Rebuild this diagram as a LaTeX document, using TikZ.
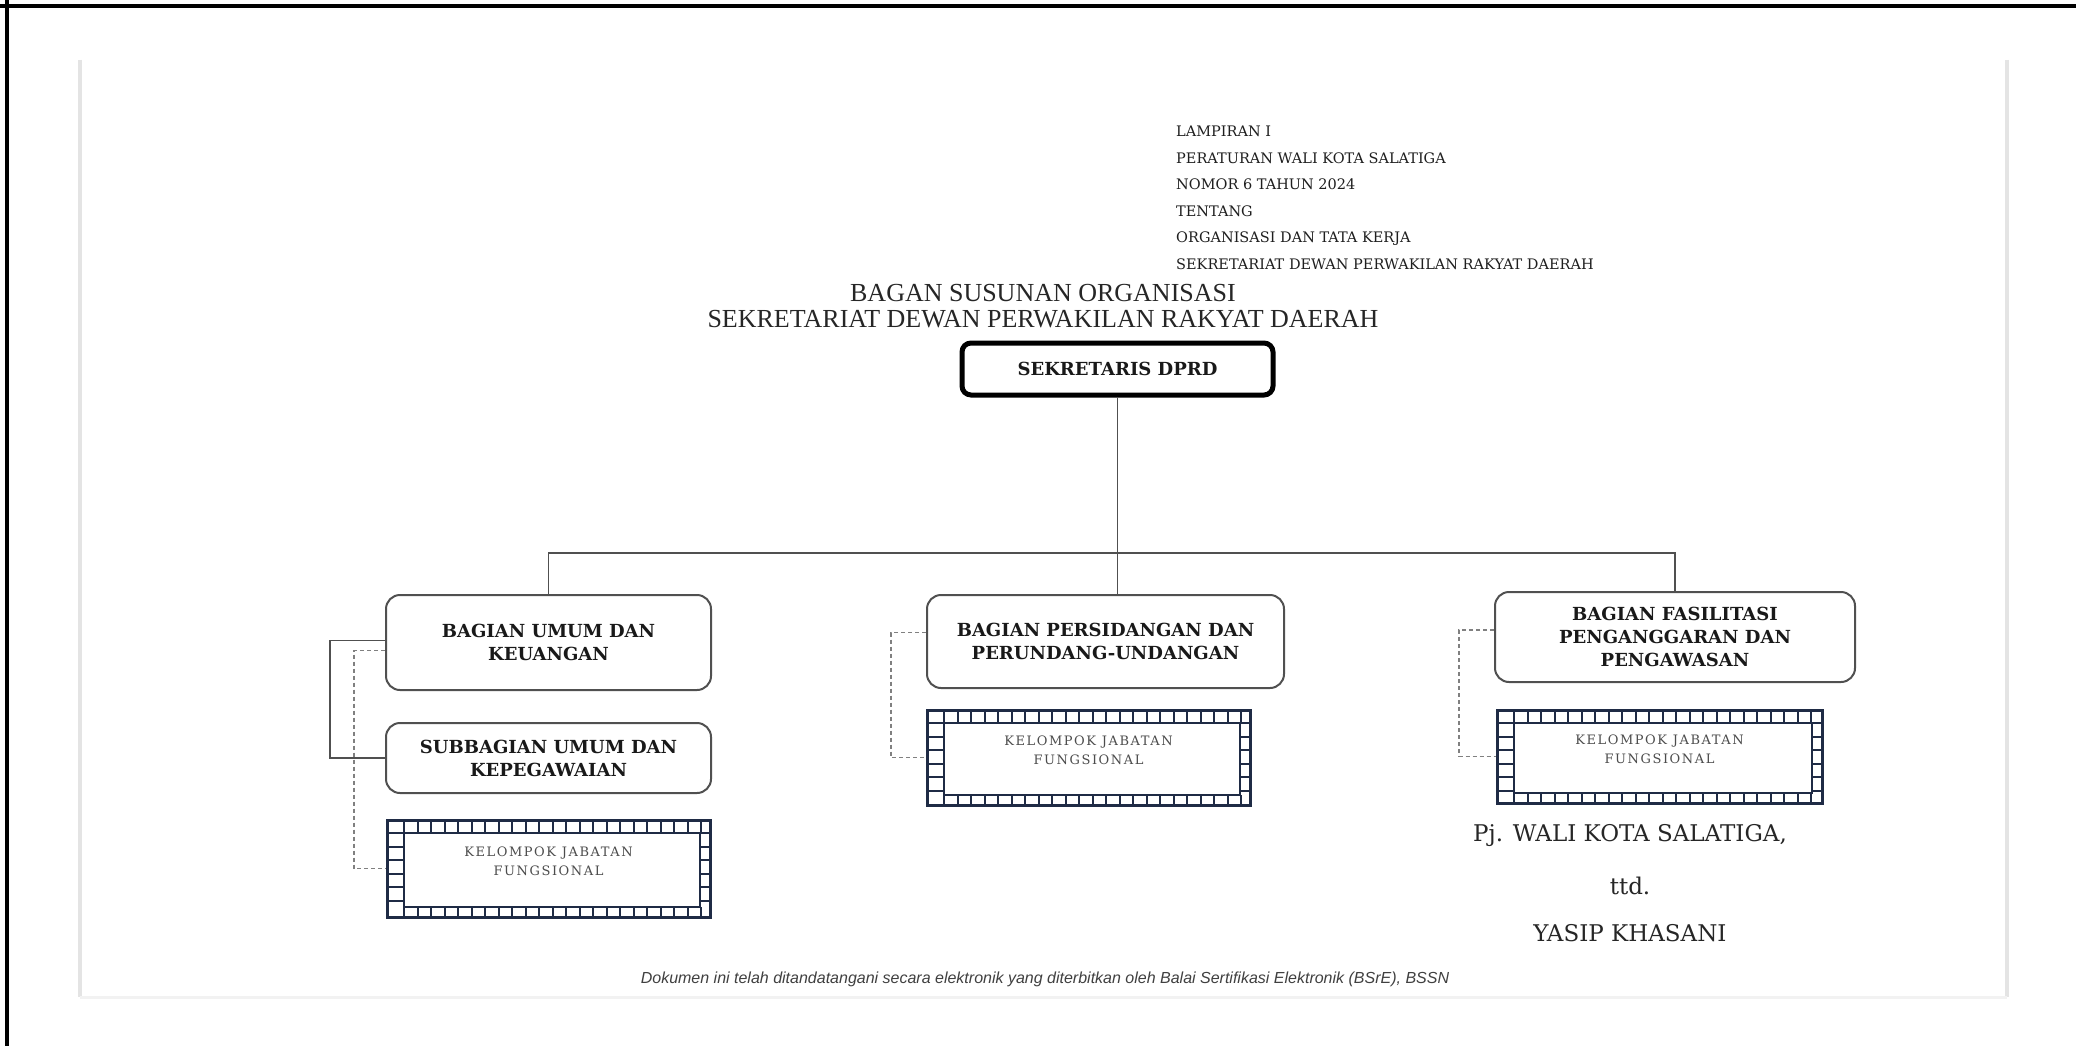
\documentclass[tikz,border=0pt]{standalone}
\usepackage{fontspec}
\setmainfont{DejaVu Serif}
\newfontfamily\titlefont{Liberation Serif}
\newfontfamily\footfont{Liberation Sans}
\newfontfamily\kjffont[LetterSpace=12]{DejaVu Serif}
\usetikzlibrary{positioning,calc}
\definecolor{navy}{HTML}{1F2B45}
\definecolor{linegray}{HTML}{505050}
\definecolor{pagegray}{HTML}{E4E4E4}

\begin{document}
\begin{tikzpicture}[x=1pt,y=-1pt,
  unit/.style={rectangle, draw=linegray, line width=2pt, rounded corners=14pt, fill=white, align=center, font=\fontsize{18}{23}\selectfont\bfseries, text=black!90},
  head/.style={unit, draw=black, line width=5pt, rounded corners=9pt},
  kjf/.style={rectangle, draw=navy, line width=3pt, align=center, text depth=14pt, font=\kjffont\fontsize{13}{19}\selectfont, text=black!70,
    path picture={
      \draw[navy, line width=2.5pt] ($(path picture bounding box.north west)+(17,13)$) rectangle ($(path picture bounding box.south east)+(-10,-10)$);
      \foreach \t in {0,...,22} {\draw[navy, line width=2pt] ($(path picture bounding box.north west)+(17+\t*13.5,0)$) -- ++(0,13);
        \draw[navy, line width=2pt] ($(path picture bounding box.south west)+(17+\t*13.5,0)$) -- ++(0,-10);}
      \foreach \t in {0,...,5} {\draw[navy, line width=2pt] ($(path picture bounding box.north west)+(0,13+\t*13.5)$) -- ++(17,0);
        \draw[navy, line width=2pt] ($(path picture bounding box.north east)+(0,13+\t*13.5)$) -- ++(-10,0);}
    }},
  conn/.style={draw=linegray, line width=1.6pt},
  dashline/.style={draw=gray, line width=1.6pt, dash pattern=on 4pt off 3pt},
  header/.style={align=left, inner sep=0pt, font=\fontsize{14.5}{26.5}\selectfont, text=black!88},
  title/.style={align=center, inner sep=0pt, font=\titlefont\fontsize{26}{26.5}\selectfont, text=black!85},
  sign/.style={inner sep=0pt, font=\fontsize{23}{26}\selectfont, text=black!85},
  foot/.style={inner sep=0pt, font=\footfont\itshape\fontsize{16}{18}\selectfont, text=black!75}
]
\useasboundingbox (0,0) rectangle (2076,1046);
\fill[white] (0,0) rectangle (2076,1046);

% frame and page
\draw[black, line width=4pt] (0,6) -- (2076,6);
\draw[black, line width=4pt] (7,0) -- (7,1046);
\draw[pagegray, line width=4pt] (80,60) -- (80,997);
\draw[pagegray, line width=4pt] (2007,60) -- (2007,997);
\draw[black!5, line width=3pt] (80,997) -- (2007,997);

% texts
\node[header, anchor=north west] (lamp) at (1176,126) {LAMPIRAN I\\PERATURAN WALI KOTA SALATIGA\\NOMOR 6 TAHUN 2024\\TENTANG\\ORGANISASI DAN TATA KERJA\\SEKRETARIAT DEWAN PERWAKILAN RAKYAT DAERAH};
\node[title] (bagan) at (1043,306) {BAGAN SUSUNAN ORGANISASI\\SEKRETARIAT DEWAN PERWAKILAN RAKYAT DAERAH};

% units
\node[head, minimum width=311pt, minimum height=52pt] (sek) at (1117.5,369) {SEKRETARIS DPRD};
\node[unit, minimum width=325pt, minimum height=95pt] (bu) at (548.5,642.5) {BAGIAN UMUM DAN\\KEUANGAN};
\node[unit, minimum width=325pt, minimum height=70pt] (sub) at (548.5,758) {SUBBAGIAN UMUM DAN\\KEPEGAWAIAN};
\node[kjf, minimum width=323pt, minimum height=97pt] (kjf1) at (548.5,868.5) {KELOMPOK JABATAN\\FUNGSIONAL};
\node[unit, minimum width=357pt, minimum height=93pt] (bp) at (1105.5,641.5) {BAGIAN PERSIDANGAN DAN\\PERUNDANG-UNDANGAN};
\node[kjf, minimum width=323pt, minimum height=95pt] (kjf2) at (1088.5,757.5) {KELOMPOK JABATAN\\FUNGSIONAL};
\node[unit, minimum width=360pt, minimum height=90pt] (bf) at (1675,637) {BAGIAN FASILITASI\\PENGANGGARAN DAN\\PENGAWASAN};
\node[kjf, minimum width=325pt, minimum height=93pt] (kjf3) at (1659.5,756.5) {KELOMPOK JABATAN\\FUNGSIONAL};

% lines
\coordinate (bus) at (0,553);
\draw[conn] (sek.south) -- (sek.south |- bp.north);
\draw[conn] (bu.north) -- (bu.north |- bus) -- (bf.north |- bus) -- (bf.north);
\draw[conn] ($(bu.west)+(0,-2)$) -- ++(-55,0) |- (sub.west);
\draw[dashline] ($(bu.west)+(0,8)$) -- ++(-31,0) |- (kjf1.west);
\draw[dashline] ($(bp.west)+(0,-9)$) -- ++(-35,0) |- (kjf2.west);
\draw[dashline] ($(bf.west)+(0,-7)$) -- ++(-35,0) |- (kjf3.west);

% signature
\node[sign] (pj) at (1630,836) {Pj. WALI KOTA SALATIGA,};
\node[sign] (ttd) at (1630,886) {ttd.};
\node[sign] (yasip) at (1630,933) {YASIP KHASANI};
\node[foot] (ft) at (1045,979) {Dokumen ini telah ditandatangani secara elektronik yang diterbitkan oleh Balai Sertifikasi Elektronik (BSrE), BSSN};
\end{tikzpicture}
\end{document}
